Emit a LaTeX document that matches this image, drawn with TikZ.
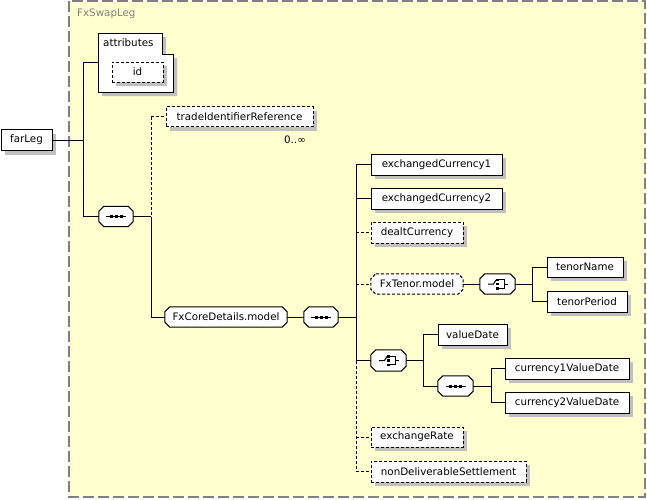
\documentclass[tikz,border=0pt]{standalone}
\usepackage{fontspec}
\setmainfont{DejaVu Sans}
\usetikzlibrary{shadows}
\definecolor{bgyellow}{RGB}{255,255,208}
\definecolor{framegray}{RGB}{128,128,128}
\definecolor{shadowgray}{RGB}{192,192,192}
\newcommand{\elfont}{\fontsize{10.3}{12}\selectfont}
\pgfdeclarelayer{bg}
\pgfdeclarelayer{oct}
\pgfsetlayers{bg,oct,main}
% octagon outline for a group node: #1 = extra style, #2 = node name
\newcommand{\octo}[2][]{%
  \begin{pgfonlayer}{oct}
    \fill[shadowgray, shift={(4,4)}]
      ([xshift=5pt]#2.north west) -- ([xshift=-5pt]#2.north east) -- ([yshift=-5pt]#2.north east) --
      ([yshift=5pt]#2.south east) -- ([xshift=-5pt]#2.south east) -- ([xshift=5pt]#2.south west) --
      ([yshift=5pt]#2.south west) -- ([yshift=-5pt]#2.north west) -- cycle;
    \draw[line width=1pt, fill=white, #1]
      ([xshift=5pt]#2.north west) -- ([xshift=-5pt]#2.north east) -- ([yshift=-5pt]#2.north east) --
      ([yshift=5pt]#2.south east) -- ([xshift=-5pt]#2.south east) -- ([xshift=5pt]#2.south west) --
      ([yshift=5pt]#2.south west) -- ([yshift=-5pt]#2.north west) -- cycle;
  \end{pgfonlayer}}
\begin{document}
\begin{tikzpicture}[x=1pt,y=-1pt,
  conn/.style={line width=1pt},
  optc/.style={conn, dash pattern=on 3pt off 2pt},
  el/.style={draw, line width=1pt, fill=white, minimum height=21pt, inner sep=0pt,
    font=\elfont, copy shadow={shadow xshift=4pt, shadow yshift=-4pt, draw=none, fill=shadowgray}},
  opt/.style={el, dash pattern=on 3pt off 2pt},
  grp/.style={inner sep=0pt, minimum height=20pt, font=\elfont},
  icon/.style={line width=1pt}
]
\useasboundingbox (0,0) rectangle (647,499);
% frame
\begin{pgfonlayer}{bg}
\draw[framegray, line width=1.5pt, dash pattern=on 11pt off 4pt, fill=bgyellow] (69,1) rectangle (645,497);
\end{pgfonlayer}
\node[anchor=west, text=framegray, font=\elfont, inner sep=0pt] (title) at (77,14) {FxSwapLeg};

% attributes
\fill[shadowgray] (102,37) -- (166,37) -- (166,58) -- (177,58) -- (177,96) -- (102,96) -- cycle;
\draw[line width=1pt, fill=white] (98,33) -- (162,33) -- (162,54) -- (173,54) -- (173,92) -- (98,92) -- cycle;
\node[anchor=west, font=\elfont, inner sep=0pt] (attrlbl) at (103,43) {attributes};
\coordinate (attr) at (98,62);
\node[opt, minimum width=51pt, minimum height=20pt] (id) at (137.5,72) {id};

% elements
\node[el, minimum width=51pt] (farLeg) at (26.5,140) {farLeg};
\node[grp, minimum width=34pt] (seq1) at (116,216.5) {};
\node[opt, minimum width=147pt, minimum height=20pt] (tir) at (239.5,116.5) {tradeIdentifierReference};
\node[font=\elfont, inner sep=0pt] (occ) at (295,140) {0..∞};
\node[grp, minimum width=122pt] (fxcore) at (226,317) {FxCoreDetails.model};
\node[grp, minimum width=34pt] (seq2) at (321,317) {};

\node[el, minimum width=131pt] (ec1) at (436.5,164.5) {exchangedCurrency1};
\node[el, minimum width=131pt] (ec2) at (436.5,198.5) {exchangedCurrency2};
\node[opt, minimum width=92pt] (dealt) at (417,232.5) {dealtCurrency};
\node[grp, minimum width=92pt] (fxtenor) at (417,284) {FxTenor.model};
\node[grp, minimum width=35pt] (ch1) at (497.5,284) {};
\node[el, minimum width=76pt, minimum height=20pt] (tname) at (585,267) {tenorName};
\node[el, minimum width=80pt] (tper) at (587,301.5) {tenorPeriod};
\node[grp, minimum width=35pt, minimum height=21pt] (ch2) at (388.5,360.5) {};
\node[el, minimum width=69pt] (vdate) at (472.5,334.5) {valueDate};
\node[grp, minimum width=35pt] (seq3) at (455.5,386) {};
\node[el, minimum width=124pt] (c1vd) at (567,368.5) {currency1ValueDate};
\node[el, minimum width=124pt] (c2vd) at (567,402.5) {currency2ValueDate};
\node[opt, minimum width=92pt, minimum height=20pt] (xrate) at (417,437) {exchangeRate};
\node[opt, minimum width=155pt] (nds) at (448.5,471.5) {nonDeliverableSettlement};

\octo{seq1}
\octo{fxcore}
\octo{seq2}
\octo[dash pattern=on 3pt off 2pt]{fxtenor}
\octo{ch1}
\octo{ch2}
\octo{seq3}

% junction coordinates
\coordinate (v1) at (83,0);
\coordinate (v2) at (151,0);
\coordinate (v3) at (356,0);
\coordinate (v4) at (532,0);
\coordinate (v5) at (423,0);
\coordinate (v6) at (491,0);

% connectors
\draw[conn] (farLeg.east) -- (farLeg.east -| v1);
\draw[conn] (v1 |- attr) -- (v1 |- seq1.west);
\draw[conn] (v1 |- attr) -- (attr);
\draw[conn] (v1 |- seq1.west) -- (seq1.west);

\draw[conn] (seq1.east) -- (seq1.east -| v2);
\draw[optc] (v2 |- tir.west) -- (v2 |- seq1.east);
\draw[optc] (v2 |- tir.west) -- (tir.west);
\draw[conn] (v2 |- seq1.east) -- (v2 |- fxcore.west) -- (fxcore.west);

\draw[conn] (fxcore.east) -- (seq2.west);
\draw[conn] (seq2.east) -- (seq2.east -| v3);
\draw[conn] (v3 |- ec1.west) -- (v3 |- ch2.west);
\draw[conn] (v3 |- ec1.west) -- (ec1.west);
\draw[conn] (v3 |- ec2.west) -- (ec2.west);
\draw[optc] (v3 |- dealt.west) -- (dealt.west);
\draw[optc] (v3 |- fxtenor.west) -- (fxtenor.west);
\draw[conn] (v3 |- ch2.west) -- (ch2.west);
\draw[optc] (v3 |- ch2.west) -- (v3 |- nds.west);
\draw[optc] (v3 |- xrate.west) -- (xrate.west);
\draw[optc] (v3 |- nds.west) -- (nds.west);

\draw[conn] (fxtenor.east) -- (ch1.west);
\draw[conn] (ch1.east) -- (ch1.east -| v4);
\draw[conn] (v4 |- tname.west) -- (v4 |- tper.west);
\draw[conn] (v4 |- tname.west) -- (tname.west);
\draw[conn] (v4 |- tper.west) -- (tper.west);

\draw[conn] (ch2.east) -- (ch2.east -| v5);
\draw[conn] (v5 |- vdate.west) -- (v5 |- seq3.west);
\draw[conn] (v5 |- vdate.west) -- (vdate.west);
\draw[conn] (v5 |- seq3.west) -- (seq3.west);

\draw[conn] (seq3.east) -- (seq3.east -| v6);
\draw[conn] (v6 |- c1vd.west) -- (v6 |- c2vd.west);
\draw[conn] (v6 |- c1vd.west) -- (c1vd.west);
\draw[conn] (v6 |- c2vd.west) -- (c2vd.west);

% sequence icons
\foreach \n in {seq1,seq2,seq3}{
  \begin{scope}[shift={(\n.center)}]
    \draw[icon] (-10,0) -- (10,0);
    \fill (-6.5,-1.5) rectangle (-3.5,1.5);
    \fill (-1.5,-1.5) rectangle (1.5,1.5);
    \fill (3.5,-1.5) rectangle (6.5,1.5);
  \end{scope}
}
% choice icons
\foreach \n in {ch1,ch2}{
  \begin{scope}[shift={(\n.center)}]
    \draw[icon] (-9.5,0) -- (-4,0) -- (-1.5,-4);
    \fill (-1.2,-5.5) rectangle (1.2,-3);
    \fill (-1.2,-1.2) rectangle (1.2,1.2);
    \fill (-1.2,3) rectangle (1.2,5.5);
    \draw[line width=0.8pt] (1.2,-4.2) -- (6.5,-4.2) -- (6.5,4.2) -- (1.2,4.2);
    \draw[icon] (6.5,0) -- (10.5,0);
  \end{scope}
}
\end{tikzpicture}
\end{document}
